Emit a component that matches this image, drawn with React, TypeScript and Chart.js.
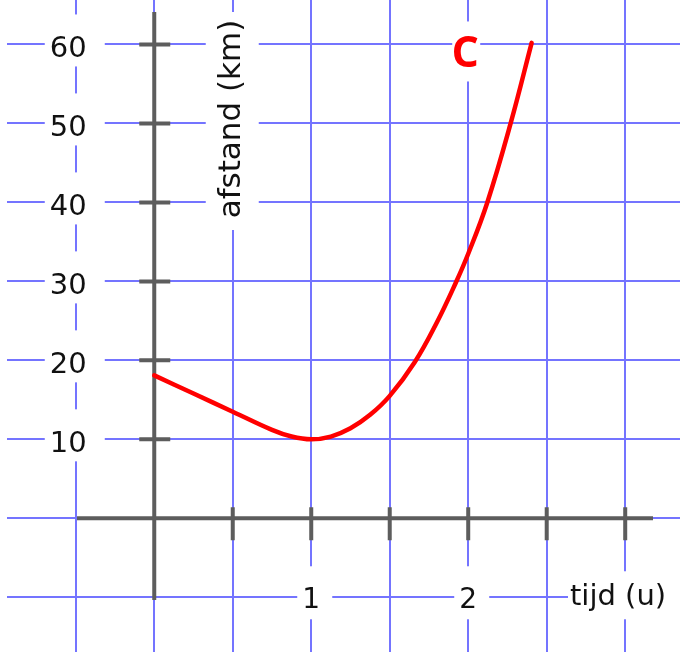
import React, { useEffect, useRef } from "react";
import { Chart, registerables } from "chart.js";

Chart.register(...registerables);

// curve C: tijd (u) -> afstand (km)
const tijd = [0, 0.25, 0.5, 0.75, 0.875, 1.0, 1.125, 1.25, 1.375, 1.5, 1.66, 1.8, 1.92, 2.0, 2.12, 2.27, 2.404];
const afstand = [18.1, 15.8, 13.5, 11.2, 10.35, 10.0, 10.35, 11.4, 13.1, 15.5, 19.8, 24.8, 29.8, 33.5, 39.9, 50, 60.2];

const xGridValues = [-0.5, 0, 0.5, 1, 1.5, 2, 2.5, 3];
const yGridValues = [-10, 0, 10, 20, 30, 40, 50, 60];
const xAxisTicks = [0.5, 1, 1.5, 2, 2.5, 3];
const yAxisTicks = [10, 20, 30, 40, 50, 60];
const xTickLabels = ["1", "2"];
const xTickLabelValues = [1, 2];
const yTickLabels = ["10", "20", "30", "40", "50", "60"];
const yTickLabelValues = [10, 20, 30, 40, 50, 60];
const xTitle = "tijd (u)";
const yTitle = "afstand (km)";
const curveName = "C";

const GRID = "#7474ff";
const AXIS = "#5d5d5d";
const RED = "#ff0000";
const FONT = "'DejaVu Sans', sans-serif";

const overlay = {
  id: "overlay",
  beforeDatasetsDraw(chart: any) {
    const { ctx } = chart;
    const x = chart.scales.x;
    const y = chart.scales.y;
    const X = (v: number) => x.getPixelForValue(v);
    const Y = (v: number) => y.getPixelForValue(v);
    ctx.save();

    // white label backgrounds
    ctx.fillStyle = "#ffffff";
    yTickLabelValues.forEach((v) => {
      const px = X(-0.5);
      const py = Y(v);
      ctx.fillRect(px - 31, py - 30, 60, 52);
    });
    xTickLabelValues.forEach((v) => {
      const px = X(v);
      const py = Y(-10);
      ctx.fillRect(px - 14, py - 31, 35, 53);
    });
    // x title box
    ctx.fillRect(568, Y(-10) - 26, 120, 48);
    // y title box
    ctx.fillRect(X(0.5) - 27, 12, 53, 218);
    // C box
    ctx.fillRect(X(2) - 16, Y(60) - 23, 28, 60);

    // texts
    ctx.fillStyle = "#111111";
    ctx.font = `29px ${FONT}`;
    ctx.textAlign = "center";
    ctx.textBaseline = "alphabetic";
    yTickLabels.forEach((t, i) => {
      ctx.fillText(t, X(-0.5) - 7.5, Y(yTickLabelValues[i]) + 13);
    });
    ctx.font = `28px ${FONT}`;
    xTickLabels.forEach((t, i) => {
      ctx.fillText(t, X(xTickLabelValues[i]), Y(-10) + 11);
    });
    ctx.font = `29px ${FONT}`;
    ctx.textAlign = "left";
    ctx.fillText(xTitle, 570, Y(-10) + 8);

    ctx.save();
    ctx.translate(X(0.5) + 7, 119);
    ctx.rotate(-Math.PI / 2);
    ctx.textAlign = "center";
    ctx.font = `31px ${FONT}`;
    ctx.fillText(yTitle, 0, 0);
    ctx.restore();

    ctx.fillStyle = RED;
    ctx.font = `bold 43px 'Open Sans', sans-serif`;
    ctx.textAlign = "center";
    ctx.fillText(curveName, X(2) - 3, Y(60) + 23);

    // axes
    ctx.strokeStyle = AXIS;
    ctx.lineWidth = 4;
    ctx.lineCap = "butt";
    ctx.beginPath();
    ctx.moveTo(X(0), 12);
    ctx.lineTo(X(0), 600);
    ctx.moveTo(77, Y(0));
    ctx.lineTo(653, Y(0));
    ctx.stroke();
    ctx.beginPath();
    yAxisTicks.forEach((v) => {
      ctx.moveTo(X(0) - 15, Y(v));
      ctx.lineTo(X(0) + 16, Y(v));
    });
    xAxisTicks.forEach((v) => {
      ctx.moveTo(X(v), Y(0) - 11);
      ctx.lineTo(X(v), Y(0) + 22);
    });
    ctx.stroke();

    ctx.restore();
  },
};

export default function App() {
  const ref = useRef<HTMLCanvasElement>(null);
  useEffect(() => {
    document.body.style.margin = "0";
    const canvas = ref.current!;
    const chart = new Chart(canvas, {
      type: "line",
      data: {
        datasets: [
          {
            label: curveName,
            data: tijd.map((t, i) => ({ x: t, y: afstand[i] })),
            borderColor: RED,
            borderWidth: 4.5,
            pointRadius: 0,
            tension: 0.4,
            fill: false,
            borderCapStyle: "round",
            borderJoinStyle: "round",
          },
        ],
      },
      options: {
        animation: false,
        responsive: false,
        devicePixelRatio: 1,
        layout: { padding: { left: 7, right: 0, top: 0, bottom: 0 } },
        plugins: { legend: { display: false }, tooltip: { enabled: false } },
        scales: {
          x: {
            type: "linear",
            min: -0.938,
            max: 3.349,
            afterBuildTicks: (s: any) => {
              s.ticks = xGridValues.map((v) => ({ value: v }));
            },
            afterFit: (s: any) => {
              s.height = 0;
            },
            ticks: { display: false },
            grid: { color: GRID, lineWidth: 2, drawTicks: false },
            border: { display: false },
          },
          y: {
            type: "linear",
            min: -16.93,
            max: 65.63,
            afterBuildTicks: (s: any) => {
              s.ticks = yGridValues.map((v) => ({ value: v }));
            },
            afterFit: (s: any) => {
              s.width = 0;
            },
            ticks: { display: false },
            grid: { color: GRID, lineWidth: 2, drawTicks: false },
            border: { display: false },
          },
        },
      },
      plugins: [overlay],
    });
    return () => chart.destroy();
  }, []);
  return (
    <div style={{ width: 680, height: 652, background: "#fff" }}>
      <canvas ref={ref} width={680} height={652} style={{ display: "block" }} />
    </div>
  );
}
